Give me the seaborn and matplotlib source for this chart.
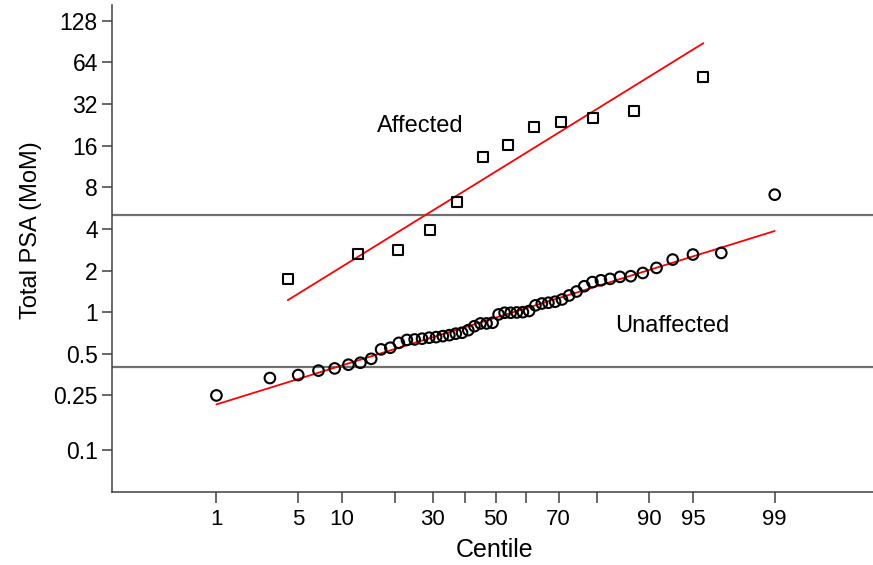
import numpy as np
import matplotlib
matplotlib.use("Agg")
import matplotlib.pyplot as plt
import seaborn as sns
from statistics import NormalDist

# total PSA (MoM), sorted
affected = [1.74, 2.64, 2.80, 3.93, 6.27, 13.2, 16.2, 21.8, 23.7, 25.3, 28.7, 50.3]
unaffected = [0.25, 0.334, 0.351, 0.378, 0.392, 0.417, 0.431, 0.46, 0.538, 0.553,
              0.60, 0.63, 0.635, 0.643, 0.654, 0.66, 0.671, 0.682, 0.699, 0.71,
              0.741, 0.792, 0.829, 0.829, 0.839, 0.963, 0.99, 0.99, 0.995, 1.0,
              1.02, 1.12, 1.155, 1.17, 1.19, 1.235, 1.32, 1.41, 1.54, 1.65,
              1.70, 1.74, 1.80, 1.82, 1.92, 2.09, 2.40, 2.61, 2.68, 7.07]

# fitted log-gaussian lines: median MoM and multiplicative SD
aff_median, aff_sdf = 10.37, 3.44
unaff_median, unaff_sdf = 0.912, 1.86

cutoffs = [5.0, 0.4]

xticks = [1, 5, 10, 20, 30, 40, 50, 60, 70, 80, 90, 95, 99]
xticklabels = ["1", "5", "10", "", "30", "", "50", "", "70", "", "90", "95", "99"]
yticks = [0.1, 0.25, 0.5, 1, 2, 4, 8, 16, 32, 64, 128]
yticklabels = ["0.1", "0.25", "0.5", "1", "2", "4", "8", "16", "32", "64", "128"]

nd = NormalDist()
_ppf = np.vectorize(nd.inv_cdf, otypes=[float])
_cdf = np.vectorize(nd.cdf, otypes=[float])


def probit(c):
    c = np.clip(np.asarray(c, dtype=float) / 100.0, 1e-9, 1 - 1e-9)
    return _ppf(c)


def inv_probit(z):
    return _cdf(np.asarray(z, dtype=float)) * 100.0


def centiles(n):
    # Hazen plotting positions
    return (np.arange(1, n + 1) - 0.5) / n * 100


sns.set_style("ticks")
plt.rcParams['font.family'] = ['Liberation Sans', 'DejaVu Sans']
plt.rcParams['text.color'] = 'black'
plt.rcParams['axes.labelcolor'] = 'black'
plt.rcParams['xtick.labelcolor'] = 'black'
plt.rcParams['ytick.labelcolor'] = 'black'

fig = plt.figure(figsize=(8.73, 5.65), dpi=100)
ax = fig.add_axes([0.128, 0.129, 0.872, 0.862])
ax.set_xscale('function', functions=(probit, inv_probit))
ax.set_yscale('log', base=2)

for c in cutoffs:
    ax.axhline(c, color='#707070', linewidth=1.6, zorder=1)

x_aff = centiles(len(affected))
x_un = centiles(len(unaffected))

fit_aff_x = np.array([x_aff[0], x_aff[-1]])
fit_un_x = np.array([x_un[0], x_un[-1]])
ax.plot(fit_aff_x, aff_median * aff_sdf ** probit(fit_aff_x), color='red', linewidth=1.3, zorder=2)
ax.plot(fit_un_x, unaff_median * unaff_sdf ** probit(fit_un_x), color='red', linewidth=1.3, zorder=2)

sns.scatterplot(x=x_aff, y=affected, ax=ax, marker='s', s=52, facecolor='none',
                edgecolor='black', linewidth=1.5, zorder=3)
sns.scatterplot(x=x_un, y=unaffected, ax=ax, marker='o', s=58, facecolor='none',
                edgecolor='black', linewidth=1.5, zorder=3)

ax.set_xlim(0.069, 99.917)
ax.set_ylim(0.05, 166)
ax.set_xticks(xticks)
ax.set_xticklabels(xticklabels)
ax.set_yticks(yticks)
ax.set_yticklabels(yticklabels)
ax.minorticks_off()
ax.tick_params(axis='x', length=8, width=1.1, color='#404040', labelsize=16, pad=4)
ax.tick_params(axis='y', length=7, width=1.1, color='#404040', labelsize=16.5, pad=3)

sns.despine(ax=ax)
for s in ['left', 'bottom']:
    ax.spines[s].set_color('#404040')
    ax.spines[s].set_linewidth(1.1)

ax.text(26.5, 22.3, "Affected", fontsize=17, ha='center', va='center')
ax.text(93.0, 0.80, "Unaffected", fontsize=17, ha='center', va='center')

ax.set_xlabel("Centile", fontsize=18)
ax.set_ylabel("Total PSA (MoM)", fontsize=17)
ax.xaxis.set_label_coords(0.503, -0.094)
ax.yaxis.set_label_coords(-0.092, 0.538)

fig.savefig("out.png", dpi=100)
